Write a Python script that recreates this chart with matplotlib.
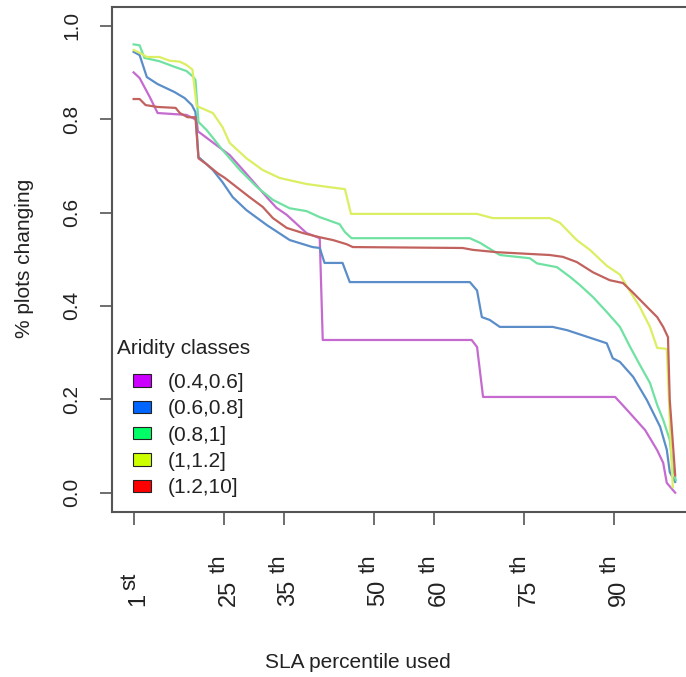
import matplotlib
matplotlib.use("Agg")
import matplotlib.pyplot as plt
from matplotlib.patches import Patch

plt.rcParams['font.family'] = ['Liberation Sans', 'DejaVu Sans']

# aridity classes (legend order)
classes = ['(0.4,0.6]', '(0.6,0.8]', '(0.8,1]', '(1,1.2]', '(1.2,10]']
box_colors = ['#cc00ff', '#0066ff', '#00ff66', '#ccff00', '#ff0000']
line_colors = ['#c56bd0', '#5b8ec9', '#6fe2a2', '#dcee62', '#c2625e']

# x tick positions / labels
tick_pos = [10, 25, 35, 50, 60, 75, 90]
tick_num = ['1', '25', '35', '50', '60', '75', '90']
tick_suf = ['st', 'th', 'th', 'th', 'th', 'th', 'th']

# (0.4,0.6]
x_a = [10, 11, 12.7, 14, 18.8, 20.5, 20.7, 26, 28.5, 32.3, 33.8, 35.5, 38.8, 41,
       41.5, 66.3, 67.2, 68.2, 90.2, 92.2, 95.2, 97.2, 98.2, 98.8, 100.2]
y_a = [0.900, 0.888, 0.847, 0.813, 0.809, 0.798, 0.774, 0.723, 0.687, 0.631, 0.610,
       0.595, 0.556, 0.545, 0.327, 0.327, 0.312, 0.205, 0.205, 0.177, 0.134, 0.091,
       0.064, 0.021, 0.0]

# (0.6,0.8]
x_b = [10, 11, 12.2, 14, 16.8, 18.5, 19.7, 20.3, 20.8, 23.2, 24.8, 26.5, 28.8, 32.2,
       36, 39.8, 41, 41.8, 44.8, 46, 66, 67.2, 68, 69.3, 71, 79.8, 82.2, 88.8, 89.8,
       91, 93.2, 95.5, 97.7, 98.8, 99.3, 100.2]
y_b = [0.944, 0.937, 0.890, 0.875, 0.858, 0.845, 0.830, 0.815, 0.719, 0.691, 0.665,
       0.633, 0.605, 0.573, 0.541, 0.526, 0.524, 0.492, 0.492, 0.451, 0.451, 0.433,
       0.376, 0.370, 0.355, 0.355, 0.348, 0.320, 0.288, 0.280, 0.248, 0.198, 0.141,
       0.092, 0.044, 0.023]

# (0.8,1]
x_c = [10, 11, 11.8, 14.3, 16.8, 18.8, 19.8, 20.3, 20.8, 22.2, 24.8, 27.7, 30.5,
       33.2, 36, 38.8, 41, 44.3, 45.2, 46.3, 66, 67.7, 71, 76, 77.2, 80.5, 82.7,
       84.3, 86.5, 88.8, 91, 92.7, 94.3, 96, 97.2, 98.2, 99.3, 99.8, 100.3]
y_c = [0.960, 0.958, 0.931, 0.924, 0.912, 0.903, 0.892, 0.884, 0.794, 0.776, 0.734,
       0.691, 0.655, 0.627, 0.609, 0.603, 0.590, 0.575, 0.558, 0.545, 0.545, 0.535,
       0.509, 0.502, 0.491, 0.483, 0.462, 0.445, 0.419, 0.387, 0.355, 0.312, 0.274,
       0.235, 0.188, 0.156, 0.113, 0.053, 0.027]

# (1,1.2]
x_d = [10, 11, 12.2, 14.3, 16, 17.7, 18.8, 19.8, 20.5, 23.2, 24.8, 26, 28.8, 31.5,
       34.3, 38.8, 42.2, 45.2, 46.2, 67.2, 69.8, 79.3, 81, 83.8, 86, 88.8, 91, 92.2,
       94.3, 96, 97.2, 98.8, 99.3, 99.8]
y_d = [0.948, 0.942, 0.933, 0.933, 0.925, 0.923, 0.916, 0.906, 0.828, 0.813, 0.783,
       0.749, 0.716, 0.691, 0.674, 0.661, 0.655, 0.650, 0.597, 0.597, 0.588, 0.588,
       0.578, 0.541, 0.520, 0.486, 0.467, 0.441, 0.398, 0.355, 0.310, 0.308, 0.156,
       0.012]

# (1.2,10]
x_e = [10, 11, 12, 14, 17, 17.7, 19, 20.3, 20.8, 22.2, 24, 25.2, 27.2, 29.3, 31.5,
       33.2, 35.5, 38.2, 41, 43.2, 45.5, 46.5, 64.8, 66.5, 70.5, 79.3, 81.5, 83.8,
       86.5, 89.3, 91.5, 93.2, 95.5, 97.2, 98.2, 99, 99.3, 100.2]
y_e = [0.843, 0.843, 0.830, 0.826, 0.824, 0.813, 0.804, 0.804, 0.716, 0.703, 0.684,
       0.674, 0.654, 0.633, 0.612, 0.588, 0.567, 0.556, 0.547, 0.541, 0.532, 0.526,
       0.524, 0.520, 0.515, 0.509, 0.505, 0.494, 0.472, 0.455, 0.449, 0.428, 0.398,
       0.376, 0.355, 0.333, 0.198, 0.037]

series = [(x_a, y_a), (x_b, y_b), (x_c, y_c), (x_d, y_d), (x_e, y_e)]

W, H = 686, 677
fig = plt.figure(figsize=(W / 100, H / 100), dpi=100)
ax = fig.add_axes([112 / W, (H - 511.7) / H, 583.6 / W, 505 / H])

for (xs, ys), col in zip(series, line_colors):
    ax.plot(xs, ys, color=col, lw=1.6)

ax.set_xlim(6.4, 103.6)
ax.set_ylim(-0.0407, 1.0407)

for sp in ax.spines.values():
    sp.set_color('#555555')
    sp.set_linewidth(1.5)

ax.set_yticks([0, 0.2, 0.4, 0.6, 0.8, 1.0])
ax.set_yticklabels(['0.0', '0.2', '0.4', '0.6', '0.8', '1.0'],
                   rotation=90, va='center', fontsize=15, color='#222222')
ax.tick_params(axis='y', length=9, width=1.2, color='#555555', pad=13)

ax.set_xticks(tick_pos)
ax.set_xticklabels([])
ax.tick_params(axis='x', length=9, width=1.2, color='#555555')

# rotated x labels with raised suffix
trans = ax.get_xaxis_transform()
y_lab = -(606 - 511.7) / 505
for p, n, s in zip(tick_pos, tick_num, tick_suf):
    t = ax.text(p + 0.8, y_lab, n, transform=trans, rotation=90, ha='center',
                va='bottom', fontsize=17, color='#222222')
    gap = 3 if n == '1' else 7
    ax.annotate(s, xy=(0.5, 1.0), xycoords=t, xytext=(-9, gap),
                textcoords='offset pixels', rotation=90, ha='center',
                va='bottom', fontsize=16, color='#222222')

fig.text(358 / W, 1 - 663 / H, 'SLA percentile used', ha='center', va='center',
         fontsize=15, color='#222222')
fig.text(25 / W, 1 - 258 / H, '% plots changing', ha='center', va='center',
         rotation=90, fontsize=15, color='#222222')

# legend
fig.text(117 / W, 1 - 349 / H, 'Aridity classes', ha='left', va='center',
         fontsize=15, color='#222222')
handles = [Patch(facecolor=c, edgecolor='#222222', linewidth=0.8) for c in box_colors]
fig.legend(handles, classes, loc='upper left',
           bbox_to_anchor=(133 / W, 1 - 373 / H), frameon=False, fontsize=15,
           borderpad=0, borderaxespad=0, handlelength=0.85, handleheight=0.55,
           handletextpad=0.8, labelspacing=0.35, labelcolor='#222222')

fig.savefig('out.png', dpi=100)
